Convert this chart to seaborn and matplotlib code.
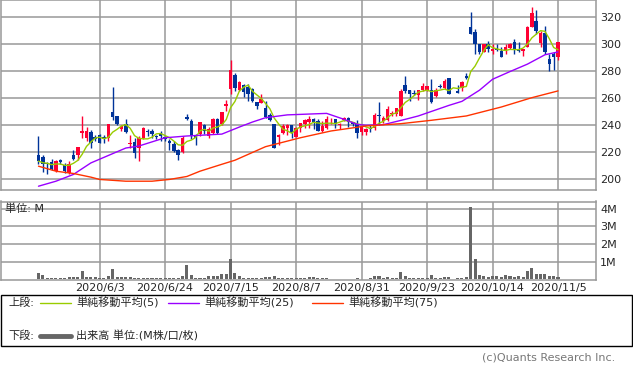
import numpy as np
import pandas as pd
import matplotlib
matplotlib.use('Agg')
import matplotlib.pyplot as plt
import seaborn as sns
from matplotlib.lines import Line2D
from matplotlib.patches import Rectangle

#%% data
# trading days (TSE), 10/1 = system outage, no trade
holidays = ['2020-07-23', '2020-07-24', '2020-08-10', '2020-09-21', '2020-09-22', '2020-11-03']
dates = pd.bdate_range('2020-05-14', '2020-11-05', freq='C', holidays=holidays)

tick_labels = ['2020/6/3', '2020/6/24', '2020/7/15', '2020/8/7',
               '2020/8/31', '2020/9/23', '2020/10/14', '2020/11/5']

nan = np.nan
opens = [217.8, 216.5, 212, 213, 206.4, 214, 210.4, 204.7, 217.8, 217.8,
         234.1, 230.6, 234.8, 231, 233, 231, 230.6, 249.6, 246.7, 237.3,
         240.5, 226.1, 227.6, 223.2, 230.6, 235.6, 235.6, 232, 234.3, 231,
         228, 226.2, 221.5, 220.3, 245.9, 243, 232.6, 233.3, 239.8, 231.9,
         234.3, 244.2, 241, 254.1, 266.4, 277, 265.7, 269.6, 268.4, 266.4,
         257, 256.5, 252.8, 247.2, 240.5, 231.4, 234.3, 238, 239.8, 231.1,
         238, 240.7, 242.5, 244.7, 243, 235.6, 238, 244.2, 244.7, 240,
         243.5, 245.4, 242, 240.7, 234.8, 234.8, 238, 238, 247.4, 242.9,
         243.5, 247.9, 248.4, 246.7, 269.6, 265.7, 264, 262.2, 265.7, 265.7,
         265.7, 261.5, 269.1, 267.2, 274.6, nan, 265, 267.2, 276.3, 312.6,
         308.9, 299.8, 293.6, 299.8, 294.8, 296, 294.8, 294.8, 296.8, 301.5,
         296, 294.8, 297.3, 312.1, 317, 300.5, 307.9, 288.6, 292.3, 289.9]
highs = [231.9, 218, 213, 215, 214, 215, 211.6, 213.3, 221.5, 224,
         246.7, 238.5, 236, 233, 233.5, 233, 241, 268.1, 246.7, 239.8,
         244.2, 232.6, 230.6, 231.8, 238.5, 236.8, 236.8, 233, 235.6, 232,
         230, 228, 222, 231.8, 247.9, 244.2, 233.3, 242, 240.5, 238.5,
         245.4, 245.4, 249.6, 258.5, 288.1, 278.8, 272.6, 270.6, 270.1, 267.2,
         257, 262.7, 257.8, 249.1, 240.5, 233.1, 240.5, 240.5, 239.8, 238.5,
         241.8, 244.7, 246.7, 245.4, 244.2, 242.9, 246.7, 245, 244.7, 241.5,
         245.9, 245.9, 242.5, 244, 238.8, 237.5, 240, 249.1, 257.2, 246.5,
         254, 250.4, 252.8, 266.4, 276.3, 265.7, 265.7, 265.7, 271.4, 268.9,
         273.8, 267.2, 270.1, 273.8, 274.6, nan, 269.6, 272.6, 278.8, 323.7,
         310.9, 299.8, 299.8, 301.8, 299.8, 299.8, 297.3, 299.8, 300.5, 303.5,
         301, 296.5, 313.3, 327.4, 324.9, 309.6, 313.3, 292.3, 293.6, 301.5]
lows = [210.9, 205, 204, 206.5, 205.5, 211, 204.7, 203.5, 214, 214,
        230.6, 228.1, 223, 228, 226.9, 226.9, 228, 243.7, 239.8, 235.6,
        234.3, 223.2, 215.8, 213.3, 229.4, 232.1, 230.6, 230, 228, 228,
        221.5, 220.3, 214, 219.5, 243.7, 229.9, 225.2, 232.1, 233.3, 230.1,
        233.3, 233.3, 239.8, 250.4, 263.2, 265.2, 265.2, 260.7, 257.8, 257.2,
        252, 256.5, 245.4, 243, 223.2, 225.2, 233.3, 232.6, 230.6, 231.1,
        235, 238, 237.8, 236.8, 235.6, 234.8, 237, 240.5, 238, 236.8,
        242.9, 238.5, 239.5, 230.1, 233, 232.6, 234.8, 236, 240.2, 241.7,
        243, 246.7, 246.7, 246.7, 264, 257.8, 262.2, 258.3, 265.2, 265.2,
        256.5, 260.8, 267, 266.4, 263.2, nan, 264, 265.2, 273.8, 307.2,
        292.8, 292.3, 293.6, 293.6, 292.8, 294.8, 289.9, 292.3, 296, 292.8,
        293.6, 291, 297.3, 312.1, 307.2, 297.3, 292.3, 280, 281, 287.7]
closes = [213.3, 211, 211, 207.6, 213.3, 213, 206.4, 210.9, 215, 224,
          235.6, 235.6, 226.9, 230, 227, 230, 240.5, 246.2, 240.5, 239.3,
          235.1, 226.9, 219, 230.6, 237.5, 234.8, 233.1, 231.5, 231.8, 230,
          226.9, 220.7, 217.5, 230.1, 244.2, 231.8, 230.6, 242, 235.6, 236.8,
          244.2, 234.3, 249.6, 255.3, 280.7, 267.2, 272.1, 264.4, 263.2, 257.8,
          254, 259, 245.9, 243.5, 223.2, 232.6, 239.3, 240, 234.3, 238,
          241.3, 243.5, 244.7, 242.5, 235.6, 239.3, 244.7, 244.7, 241, 241,
          245.4, 242.5, 240.5, 234.3, 238.5, 237.3, 236.8, 247.4, 246.7, 245.4,
          251.6, 249.1, 252.3, 265.2, 265.2, 262.7, 262.7, 265.7, 268.9, 268.9,
          257.2, 265.9, 268.2, 272.6, 263.2, nan, 264, 272.1, 274.6, 307.2,
          299.8, 293.6, 299.8, 296, 296.5, 295.3, 289.9, 297.8, 299.8, 296,
          294.8, 296, 312.6, 322.5, 309.6, 307.9, 293.6, 285.4, 289.9, 301.5]

# 出来高 (M)
volume = [0.34, 0.22, 0.09, 0.07, 0.07, 0.07, 0.09, 0.11, 0.11, 0.11,
          0.45, 0.11, 0.11, 0.11, 0.07, 0.07, 0.17, 0.56, 0.11, 0.11,
          0.11, 0.11, 0.09, 0.07, 0.07, 0.05, 0.05, 0.04, 0.05, 0.04,
          0.07, 0.07, 0.07, 0.17, 0.78, 0.22, 0.07, 0.07, 0.07, 0.15,
          0.15, 0.15, 0.28, 0.28, 1.12, 0.34, 0.17, 0.09, 0.07, 0.07,
          0.04, 0.04, 0.11, 0.11, 0.17, 0.07, 0.05, 0.05, 0.05, 0.05,
          0.06, 0.09, 0.11, 0.11, 0.07, 0.07, 0.07, 0.02, 0.02, 0.02,
          0.02, 0.02, 0.02, 0.07, 0.02, 0.02, 0.05, 0.15, 0.17, 0.09,
          0.11, 0.04, 0.09, 0.39, 0.17, 0.07, 0.07, 0.07, 0.07, 0.07,
          0.22, 0.07, 0.07, 0.11, 0.11, 0.0, 0.07, 0.07, 0.11, 4.09,
          1.12, 0.22, 0.17, 0.11, 0.17, 0.17, 0.11, 0.22, 0.17, 0.11,
          0.17, 0.11, 0.45, 0.62, 0.28, 0.28, 0.28, 0.17, 0.17, 0.11]

# moving averages (position, value)
ma25_pos = [0, 4, 8, 12, 16, 20, 23, 29, 34, 42, 46, 49, 52, 57, 66, 70, 73, 75, 79, 84, 87, 94, 97, 101, 104, 108, 112, 116, 119]
ma25_val = [194.8, 198.5, 203.5, 212, 217.5, 223, 224.5, 230.6, 231.9, 233.3, 238.5, 242.2, 245.4, 247.5, 248.6, 244.2, 240.5, 239.8, 240.3, 244.2, 246.7, 254.5, 257.5, 265.7, 273.8, 279.5, 285, 291.9, 294]
ma75_pos = [0, 4, 8, 12, 14, 20, 26, 30, 34, 37, 42, 45, 52, 60, 67, 75, 83, 90, 98, 106, 113, 119]
ma75_val = [209.6, 205.9, 204.2, 201.5, 199.8, 198.5, 198.5, 199.8, 202, 205.9, 211, 214, 224, 230.6, 235.6, 239.3, 241, 243.5, 246.7, 253.3, 260.2, 265.2]

#%% prep
df = pd.DataFrame({'date': dates, 'open': opens, 'high': highs,
                   'low': lows, 'close': closes, 'volume': volume})
df['pos'] = np.arange(len(df))
df['ma5'] = df['close'].rolling(5, min_periods=1).mean()
up = df['close'] >= df['open']

tick_pos = [df.index[df['date'] == pd.to_datetime(t, format='%Y/%m/%d')][0] for t in tick_labels]

#%% plot
sns.set_style('white')
plt.rcParams['font.family'] = ['DejaVu Sans', 'Noto Sans CJK JP']

W, H = 633, 374
fig = plt.figure(figsize=(W / 100, H / 100), dpi=100)
ax1 = fig.add_axes([0.5 / W, (H - 190) / H, 595.5 / W, 189.5 / H])
ax2 = fig.add_axes([0.5 / W, (H - 280) / H, 595.5 / W, 78.5 / H])

red, blue = '#ff0033', '#003399'
grid_c = '#999999'

for ax in (ax1, ax2):
    ax.set_axisbelow(True)
    ax.grid(True, color=grid_c, lw=1.1)
    for s in ax.spines.values():
        s.set_color(grid_c)
        s.set_linewidth(1.1)
    ax.set_xlim(-8.7, 127.7)
    ax.set_xticks(tick_pos)
    ax.yaxis.tick_right()
    ax.tick_params(length=0, labelsize=8, pad=3)

# candles
cols = np.where(up, red, blue)
ax1.vlines(df['pos'], df['low'], df['high'], colors=cols, lw=1)
body_h = (df['close'] - df['open']).abs().clip(lower=0.5)
ax1.bar(df['pos'], body_h, bottom=df[['open', 'close']].min(axis=1),
        width=0.8, color=cols, linewidth=0)

sns.lineplot(x=df['pos'], y=df['ma5'], color='#99cc00', lw=1, ax=ax1)
sns.lineplot(x=ma25_pos, y=ma25_val, color='#9900ff', lw=1, ax=ax1)
sns.lineplot(x=ma75_pos, y=ma75_val, color='#ff3300', lw=1, ax=ax1)

ax1.set_ylim(192, 332)
ax1.set_yticks(range(200, 321, 20))
ax1.tick_params(labelbottom=False)
ax1.set_xlabel('')
ax1.set_ylabel('')

# volume (bars sit on top of the bottom border)
ax2.bar(df['pos'], df['volume'], width=0.7, color='#666666', linewidth=0, zorder=3)
ax2.set_xlim(-8.7, 127.7)
ax2.set_xticks(tick_pos)
ax2.set_xticklabels(tick_labels)
ax2.set_ylim(-0.05, 4.41)
ax2.set_yticks([1, 2, 3, 4])
ax2.set_yticklabels(['1M', '2M', '3M', '4M'])
ax2.tick_params(axis='x', pad=2)
ax2.set_xlabel('')
ax2.set_ylabel('')
fig.text(5 / W, (H - 209) / H, '単位: M', fontsize=8, va='center', ha='left')

# legend box
fig.patches.append(Rectangle((0.5 / W, (H - 346) / H), 631.5 / W, 51 / H,
                             transform=fig.transFigure, fill=False,
                             edgecolor='black', lw=1))
y1 = (H - 303) / H
y2 = (H - 336) / H
fig.text(8 / W, y1, '上段:', fontsize=8, va='center')
fig.text(8 / W, y2, '下段:', fontsize=8, va='center')
legend_items = [(40, '#99cc00', '単純移動平均(5)'),
                (168, '#9900ff', '単純移動平均(25)'),
                (312, '#ff3300', '単純移動平均(75)')]
for x0, c, lab in legend_items:
    fig.add_artist(Line2D([x0 / W, (x0 + 31) / W], [y1, y1], color=c, lw=1,
                          transform=fig.transFigure))
    fig.text((x0 + 36) / W, y1, lab, fontsize=8, va='center')
fig.add_artist(Line2D([40 / W, 71 / W], [y2, y2], color='#666666', lw=3.5,
                      transform=fig.transFigure))
fig.text(76 / W, y2, '出来高 単位:(M株/口/枚)', fontsize=8, va='center')

fig.text(615 / W, (H - 358) / H, '(c)Quants Research Inc.', fontsize=8,
         color='#777777', ha='right', va='center')

fig.savefig('out.png', dpi=100)
